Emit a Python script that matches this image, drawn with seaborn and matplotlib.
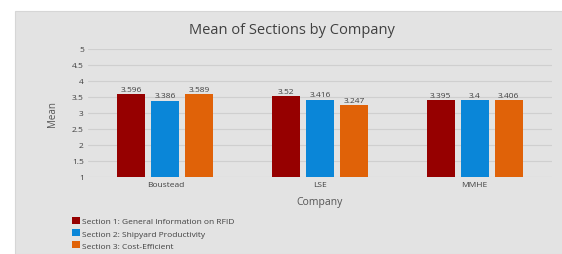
import pandas as pd
import matplotlib
matplotlib.use("Agg")
import matplotlib.pyplot as plt
import seaborn as sns
from matplotlib.patches import Rectangle

companies = ["Boustead", "LSE", "MMHE"]
sections = [
    "Section 1: General Information on RFID",
    "Section 2: Shipyard Productivity",
    "Section 3: Cost-Efficient",
]
section1 = [3.596, 3.52, 3.395]
section2 = [3.386, 3.416, 3.4]
section3 = [3.589, 3.247, 3.406]
value_labels = [
    ["3.596", "3.52", "3.395"],
    ["3.386", "3.416", "3.4"],
    ["3.589", "3.247", "3.406"],
]
colors = ["#960000", "#0a86d8", "#e06208"]

rows = []
for name, vals in zip(sections, [section1, section2, section3]):
    for comp, v in zip(companies, vals):
        rows.append({"Company": comp, "Section": name, "Mean": v})
df = pd.DataFrame(rows)

sns.set_style("white")
plt.rcParams["font.family"] = ["Open Sans", "DejaVu Sans"]

panel = "#e3e3e3"
fig = plt.figure(figsize=(5.62, 2.55), dpi=100)
fig.patch.set_facecolor("white")
fig.patches.append(Rectangle((15 / 562, 0), 1, 1 - 12 / 255, transform=fig.transFigure,
                             facecolor=panel, edgecolor="#d6d6d6", lw=0.8, zorder=-10))

ax = fig.add_axes([88 / 562, 1 - 178 / 255, (552 - 88) / 562, 128 / 255])
ax.set_facecolor(panel)

sns.barplot(data=df, x="Company", y="Mean", hue="Section", palette=colors,
            saturation=1, width=0.66, gap=0.17, linewidth=0, ax=ax)

# bars start from 1 like the original
for cont in ax.containers:
    for bar in cont:
        h = bar.get_height()
        bar.set_y(1)
        bar.set_height(h - 1)

for cont, labs in zip(ax.containers, value_labels):
    ax.bar_label(cont, labels=labs, padding=1, fontsize=6, color="#404040")

ax.set_ylim(1, 5)
ax.set_yticks([1, 1.5, 2, 2.5, 3, 3.5, 4, 4.5, 5])
ax.set_yticklabels(["1", "1.5", "2", "2.5", "3", "3.5", "4", "4.5", "5"])
ax.yaxis.grid(True, color="#cfcfcf", lw=0.8)
ax.set_axisbelow(True)
for s in ax.spines.values():
    s.set_visible(False)
ax.tick_params(axis="both", length=0, labelsize=6, colors="#404040", pad=3)
ax.set_xlabel("Company", fontsize=7.5, color="#555555", labelpad=6)
ax.set_ylabel("Mean", fontsize=7, color="#555555", labelpad=10)

fig.text(0.52, 1 - 30 / 255, "Mean of Sections by Company", ha="center", va="center",
         fontsize=10.5, color="#404040")

leg = ax.legend(loc="upper left", bbox_to_anchor=(68 / 562, 1 - 214 / 255),
                bbox_transform=fig.transFigure, frameon=False, fontsize=6,
                handlelength=0.9, handleheight=0.9, handletextpad=0.3,
                labelspacing=0.45, borderpad=0)
for t in leg.get_texts():
    t.set_color("#404040")

fig.savefig("out.png", dpi=100, facecolor="white")
